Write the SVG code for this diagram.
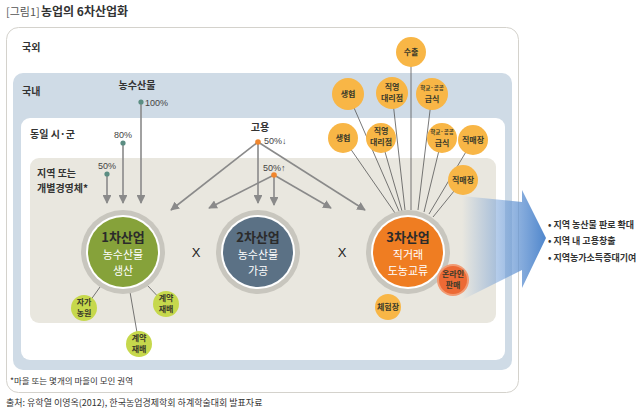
<svg xmlns="http://www.w3.org/2000/svg" width="640" height="414" viewBox="0 0 640 414">
<defs>
<style>
text{font-family:"Noto Sans CJK KR","Noto Sans",sans-serif;fill:#333}
.lbl{font-size:10px;font-weight:700}
.pct{font-size:9px;font-family:"Liberation Sans Narrow","Liberation Sans",sans-serif;fill:#444}
.big{font-size:13px;font-weight:700;text-anchor:middle;fill:#2b2b2b}
.wt{font-size:11px;text-anchor:middle;fill:#fff}
.sm{font-size:8px;font-weight:700;text-anchor:middle;fill:#3a3a2a}
.xs{font-size:5.5px;font-weight:700;text-anchor:middle;fill:#3a3a2a}
.ar{stroke:#8a8a8a;stroke-width:1.6;fill:none;marker-end:url(#ah)}
.cl{stroke:#555;stroke-width:0.8;fill:none}
.yc{fill:#f8b646}
.gc{fill:#c6d84c}
.ring{fill:#c8c6be}
.bul{font-size:9px;font-weight:700;fill:#333}
</style>
<marker id="ah" viewBox="0 0 10 10" refX="9" refY="5" markerWidth="5.5" markerHeight="5.5" orient="auto" markerUnits="strokeWidth"><path d="M0,0 L10,5 L0,10 z" fill="#8a8a8a"/></marker>
<linearGradient id="ag" x1="462" y1="0" x2="546" y2="0" gradientUnits="userSpaceOnUse">
<stop offset="0" stop-color="#6d9bd6" stop-opacity="0"/>
<stop offset="0.4" stop-color="#6d9bd6" stop-opacity="0.5"/>
<stop offset="1" stop-color="#4f86cc" stop-opacity="1"/>
</linearGradient>
</defs>
<rect width="640" height="414" fill="#fff"/>
<text x="6" y="16" style="font-size:11px;fill:#555">[그림1]</text>
<text x="41" y="16" style="font-size:12px;font-weight:700;fill:#333">농업의 6차산업화</text>

<g id="zone-abroad"><rect x="6.5" y="27.5" width="512" height="365" rx="12" fill="#fff" stroke="#d4d2cc"/><text x="22" y="51" class="lbl">국외</text></g>
<g id="zone-domestic"><rect x="13" y="73" width="499" height="297" rx="10" fill="#cfdbe6"/><text x="22" y="95" class="lbl">국내</text></g>
<g id="zone-city"><rect x="21" y="118" width="484" height="242" rx="9" fill="#fff"/><text x="30" y="138" class="lbl">동일 시·군</text></g>
<g id="zone-local"><rect x="30" y="158" width="466" height="165" rx="9" fill="#e9e7df"/><text x="37" y="177" class="lbl">지역 또는</text><text x="37" y="192" class="lbl">개별경영체*</text></g>

<g id="big-arrow"><polygon points="462,196 522,202 522,190 546,238 522,288 522,270 462,300" fill="url(#ag)"/></g>

<g id="connectors">
<line class="ar" x1="141" y1="102" x2="141" y2="203"/>
<line class="ar" x1="123" y1="143" x2="123" y2="203"/>
<line class="ar" x1="107" y1="174" x2="107" y2="203"/>
<line class="ar" x1="258" y1="142" x2="171" y2="210"/>
<line class="ar" x1="258" y1="142" x2="258" y2="203"/>
<line class="ar" x1="258" y1="142" x2="365" y2="210"/>
<line class="ar" x1="274" y1="175" x2="209" y2="208"/>
<line class="ar" x1="274" y1="175" x2="274" y2="205"/>
<line class="ar" x1="274" y1="175" x2="331" y2="208"/>
<line class="cl" x1="411" y1="53" x2="411" y2="210"/>
<line class="cl" x1="348" y1="94" x2="399" y2="211"/>
<line class="cl" x1="392" y1="93" x2="405" y2="210"/>
<line class="cl" x1="432" y1="94" x2="418" y2="210"/>
<line class="cl" x1="343" y1="138" x2="395" y2="213"/>
<line class="cl" x1="381" y1="138" x2="402" y2="211"/>
<line class="cl" x1="442" y1="138" x2="424" y2="212"/>
<line class="cl" x1="473" y1="140" x2="429" y2="214"/>
<line class="cl" x1="463" y1="180" x2="433" y2="217"/>
<line class="cl" x1="100" y1="287" x2="85" y2="308"/>
<line class="cl" x1="147" y1="285" x2="165" y2="304"/>
<line class="cl" x1="130" y1="292" x2="139" y2="344"/>
</g>

<g id="src-100"><text x="137" y="89" class="lbl" text-anchor="middle">농수산물</text><circle cx="141" cy="102" r="2.6" fill="#5b8d82"/><text x="145" y="106" class="pct">100%</text></g>
<g id="src-80"><text x="123" y="138" class="pct" text-anchor="middle">80%</text><circle cx="123" cy="143" r="2.6" fill="#5b8d82"/></g>
<g id="src-50"><text x="107" y="169" class="pct" text-anchor="middle">50%</text><circle cx="107" cy="174" r="2.6" fill="#5b8d82"/></g>
<g id="employ"><text x="260" y="131" class="lbl" text-anchor="middle">고용</text><circle cx="258" cy="142" r="2.8" fill="#f0852c"/><text x="264" y="144" class="pct">50%↓</text></g>
<g id="employ-50"><text x="263" y="171" class="pct">50%↑</text><circle cx="274" cy="175" r="2.8" fill="#f0852c"/></g>

<g id="primary"><circle cx="123" cy="252" r="42" class="ring"/><circle cx="123" cy="252" r="37" fill="#fff"/><circle cx="123" cy="252" r="35" fill="#86a23a"/><text x="123" y="242" class="big">1차산업</text><text x="123" y="259" class="wt">농수산물</text><text x="123" y="275" class="wt">생산</text></g>
<g id="secondary"><circle cx="258" cy="252" r="42" class="ring"/><circle cx="258" cy="252" r="37" fill="#fff"/><circle cx="258" cy="252" r="35" fill="#5b7185"/><text x="258" y="242" class="big">2차산업</text><text x="258" y="259" class="wt">농수산물</text><text x="258" y="275" class="wt">가공</text></g>
<g id="tertiary"><circle cx="408" cy="252" r="42" class="ring"/><circle cx="408" cy="252" r="37" fill="#fff"/><circle cx="408" cy="252" r="35" fill="#ef7d22"/><text x="408" y="242" class="big">3차산업</text><text x="408" y="259" class="wt">직거래</text><text x="408" y="275" class="wt">도농교류</text></g>
<text x="196" y="257" style="font-size:13px;text-anchor:middle;fill:#222;font-family:'Liberation Sans',sans-serif">X</text>
<text x="342" y="257" style="font-size:13px;text-anchor:middle;fill:#222;font-family:'Liberation Sans',sans-serif">X</text>

<g id="own-farm"><circle cx="84" cy="308" r="13" class="gc"/><text x="84" y="305" class="sm">자가</text><text x="84" y="316" class="sm">농원</text></g>
<g id="contract-1"><circle cx="166" cy="304" r="13" class="gc"/><text x="166" y="301" class="sm">계약</text><text x="166" y="312" class="sm">재배</text></g>
<g id="contract-2"><circle cx="139" cy="344" r="13" class="gc"/><text x="139" y="341" class="sm">계약</text><text x="139" y="352" class="sm">재배</text></g>

<g id="export"><circle cx="411" cy="52" r="15" class="yc"/><text x="411" y="55" class="sm">수출</text></g>
<g id="coop-1"><circle cx="348" cy="94" r="16" class="yc"/><text x="348" y="97" class="sm">생협</text></g>
<g id="agency-1"><circle cx="392" cy="93" r="16" class="yc"/><text x="392" y="90" class="sm">직영</text><text x="392" y="101" class="sm">대리점</text></g>
<g id="school-1"><circle cx="432" cy="94" r="16" class="yc"/><text x="432" y="90" class="xs">학교·공공</text><text x="432" y="102" class="sm">급식</text></g>
<g id="coop-2"><circle cx="343" cy="138" r="15" class="yc"/><text x="343" y="141" class="sm">생협</text></g>
<g id="agency-2"><circle cx="381" cy="138" r="15" class="yc"/><text x="381" y="134" class="sm">직영</text><text x="381" y="145" class="sm">대리점</text></g>
<g id="school-2"><circle cx="442" cy="138" r="15" class="yc"/><text x="442" y="134" class="xs">학교·공공</text><text x="442" y="146" class="sm">급식</text></g>
<g id="direct-1"><circle cx="473" cy="140" r="15" class="yc"/><text x="473" y="143" class="sm">직매장</text></g>
<g id="direct-2"><circle cx="463" cy="180" r="15" class="yc"/><text x="463" y="183" class="sm">직매장</text></g>
<g id="online"><circle cx="453" cy="280" r="16" fill="#f29a72"/><circle cx="453" cy="280" r="14" fill="#ec6a35"/><text x="453" y="277" class="sm">온라인</text><text x="453" y="288" class="sm">판매</text></g>
<g id="experience"><circle cx="388" cy="307" r="13" class="yc"/><text x="388" y="310" class="sm">체험장</text></g>

<g id="effects">
<text x="548" y="228" class="bul">• 지역 농산물 판로 확대</text>
<text x="548" y="244" class="bul">• 지역 내 고용창출</text>
<text x="548" y="261" class="bul">• 지역농가소득증대기여</text>
</g>
<text x="10" y="384" style="font-size:8.5px;fill:#333">*마을 또는 몇개의 마을이 모인 권역</text>
<text x="6" y="406" style="font-size:9px;fill:#333">출처: 유학열 이영옥(2012), 한국농업경제학회 하계학술대회 발표자료</text>
</svg>
